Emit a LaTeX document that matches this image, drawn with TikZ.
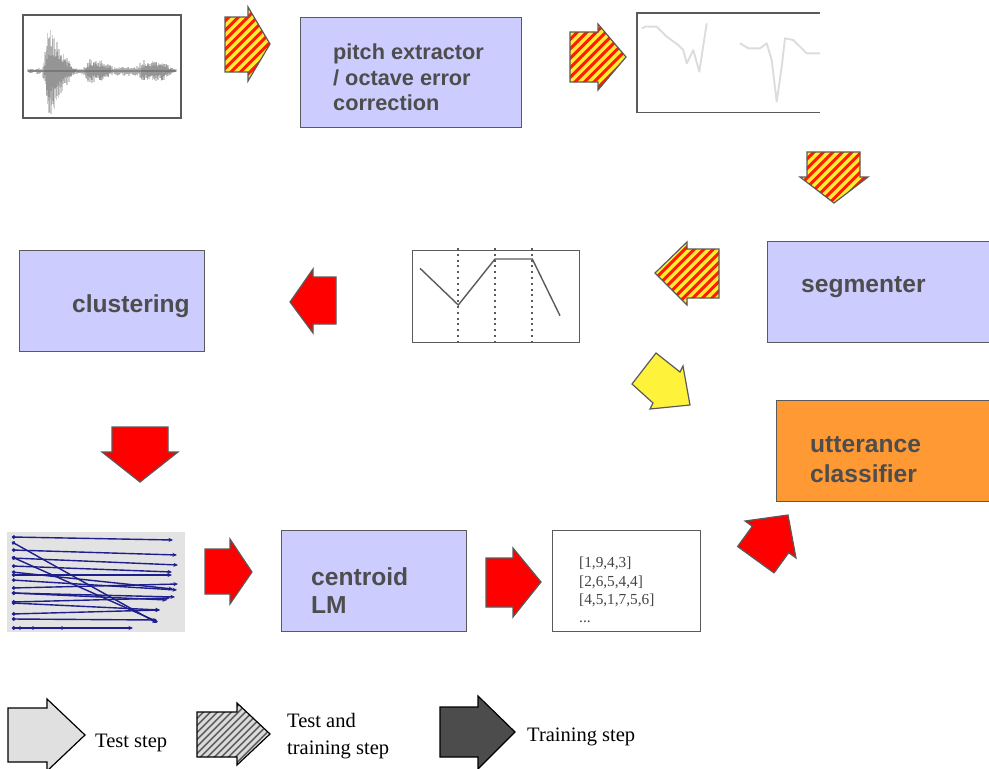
\documentclass[tikz,border=0pt]{standalone}
\usepackage{fontspec}
\setmainfont{Liberation Serif}
\setsansfont{Liberation Sans}
\usetikzlibrary{calc,arrows.meta}
\definecolor{lav}{HTML}{CCCCFF}
\definecolor{bord}{HTML}{5A5A5A}
\definecolor{txt}{HTML}{4D4D4D}
\definecolor{txtb}{HTML}{444444}
\definecolor{hy}{HTML}{FFEE33}
\definecolor{hr}{HTML}{FF1A00}
\definecolor{yel}{HTML}{FFF23A}
\definecolor{orng}{HTML}{FF9933}
\definecolor{navy}{HTML}{1E1E8C}
\definecolor{ltg}{HTML}{DCDCDC}
\definecolor{wavec}{HTML}{5E5E5E}
\definecolor{plotbg}{HTML}{E3E3E3}
\begin{document}
\begin{tikzpicture}[x=1pt,y=-1pt,
 box/.style={draw=bord, line width=1.3pt, fill=lav, anchor=north west, inner sep=0pt},
 obox/.style={draw=bord, line width=1.3pt, fill=orng, anchor=north west, inner sep=0pt},
 frame/.style={draw=bord, line width=1.3pt, anchor=north west, inner sep=0pt},
 lbl/.style={font=\sffamily\bfseries\fontsize{24.6}{29.5}\selectfont, text=txt, align=left, inner sep=0pt, anchor=west},
 legtext/.style={font=\fontsize{20.5}{27}\selectfont, text=black, align=left, inner sep=0pt, anchor=west},
 hatchy/.style={draw=bord, line width=1.2pt, fill=hy, line join=miter,
   path picture={\foreach \k in {-150,-140.5,...,150} \draw[hr, line width=3pt] ($(path picture bounding box.center)+(\k-90,90)$) -- ++(180,-180);}},
 hatchg/.style={draw=black, line width=1.2pt, fill=black!14,
   path picture={\foreach \k in {-150,-143,...,150} \draw[black!62, line width=1.7pt] ($(path picture bounding box.center)+(\k-90,90)$) -- ++(180,-180);}},
 redarr/.style={draw=bord, line width=1.2pt, fill=red},
 yelarr/.style={draw=bord, line width=1.2pt, fill=yel},
 wave/.style={draw=wavec, opacity=0.3, line width=1.4pt},
 pitchc/.style={draw=ltg, line width=1.9pt, line join=round},
 clu/.style={draw=navy, line width=1.4pt, {Circle[length=3.5pt]}-{Stealth[length=4.5pt,width=4pt]}},
]
\useasboundingbox (0,0) rectangle (989,769);

% ---- waveform picture
\node[frame, line width=1.8pt, minimum width=158pt, minimum height=103pt] (wavebox) at (22,14) {};
\draw[wavec, opacity=0.5, line width=1.6pt] (28,71) -- (176,71);
\pgfmathsetseed{7}
\foreach \x/\a in {28/2,31/3,34/2,37/3,40/2,43/8,45/25,47/40,49/44,51/42,53/38,55/35,57/30,59/28,61/22,63/18,65/15,67/12,69/9,71/6,73/4,75/3,78/3,81/3,84/5,86/9,88/11,90/12,92/10,94/11,96/9,98/10,100/11,102/9,104/8,106/7,108/6,110/5,113/4,116/5,119/4,122/5,125/4,128/5,131/4,134/5,137/6,140/8,142/10,144/11,146/12,148/11,150/10,152/12,154/11,156/10,158/9,160/11,162/10,164/8,166/7,168/5,170/4,172/3,174/2}{
  \foreach \j in {0,0.6,1.2,1.8}{
    \pgfmathsetmacro\u{\a*(0.35+0.65*rnd)}
    \pgfmathsetmacro\d{\a*(0.35+0.65*rnd)}
    \draw[wave] (\x+\j,71-\u) -- (\x+\j,71+\d);
  }
}

% ---- arrow 1 (hatched, right)
\draw[hatchy] (225,17) -- (248,17) -- (248,7) -- (270,44) -- (248,81) -- (248,72) -- (225,72) -- cycle;

% ---- pitch extractor box
\node[box, minimum width=221pt, minimum height=110pt] (pitch) at (300,17) {};
\node[lbl, font=\sffamily\bfseries\fontsize{21.7}{25.5}\selectfont] (pitchT) at (333,77.5) {pitch extractor\\/ octave error\\correction};

% ---- arrow 2 (hatched, right)
\draw[hatchy] (570,32) -- (598,32) -- (598,24) -- (626,57) -- (598,90) -- (598,82) -- (570,82) -- cycle;

% ---- pitch contour picture
\node[inner sep=0pt, anchor=north west, minimum width=183pt, minimum height=99pt] (pitchplot) at (637,13) {};
\draw[pitchc] (641.7,28.3) -- (646,26.5) -- (656.7,26.7) -- (666.7,36.7) -- (678.3,45) -- (683.3,50) -- (686.7,63.3) -- (693.3,50) -- (699.3,71.7) -- (706.7,23.3);
\draw[pitchc] (740,43.3) -- (748.3,48.3) -- (760,48.3) -- (766.7,43.3) -- (771.7,60) -- (776.7,101.7) -- (781.7,66.7) -- (785,38.3) -- (793.3,40) -- (806.7,53.3) -- (820,53.3);
\draw[bord, line width=1.3pt] (pitchplot.north east) -- (pitchplot.north west) -- (pitchplot.south west) -- (pitchplot.south east);

% ---- arrow 3 (hatched, down)
\draw[hatchy] (807,152) -- (860,152) -- (860,177) -- (868,177) -- (834,203) -- (800,177) -- (807,177) -- cycle;

% ---- segmenter
\node[box, minimum width=225pt, minimum height=101pt] (seg) at (767,241) {};
\node[lbl] (segT) at (801,287) {segmenter};

% ---- arrow 4 (hatched, left)
\draw[hatchy] (719,249) -- (687,249) -- (687,242) -- (655,273) -- (687,305) -- (687,298) -- (719,298) -- cycle;

% ---- segment plot
\node[frame, minimum width=167pt, minimum height=92pt] (segplot) at (411.7,250) {};
\foreach \xx in {458.3,495,532.3}
  \draw[bord, line width=2pt, dash pattern=on 2pt off 3.8pt] (\xx,248) -- (\xx,344);
\draw[bord, line width=1.4pt] (420,268.3) -- (458.3,305) -- (495,259) -- (532.3,259) -- (560,315.7);

% ---- red arrow left
\draw[redarr] (336,277) -- (313,277) -- (313,269) -- (290,302) -- (313,333) -- (313,324) -- (336,324) -- cycle;

% ---- clustering
\node[box, minimum width=185pt, minimum height=101pt] (clus) at (19,250) {};
\node[lbl] (clusT) at (72,306) {clustering};

% ---- yellow arrow
\draw[yelarr] (656,353) -- (680,372) -- (683,366) -- (690,405) -- (650,409) -- (653,403) -- (632,384) -- cycle;

% ---- utterance classifier
\node[obox, minimum width=216pt, minimum height=101pt] (utt) at (776,400) {};
\node[lbl, font=\sffamily\bfseries\fontsize{24.6}{30}\selectfont] (uttT) at (810,460) {utterance\\classifier};

% ---- red arrow down
\draw[redarr] (112,427) -- (168,427) -- (168,452) -- (178,452) -- (140,482) -- (102,452) -- (112,452) -- cycle;

% ---- cluster plot
\node[inner sep=0pt, anchor=north west, fill=plotbg, minimum width=178pt, minimum height=100pt] (cluplot) at (7,532) {};
\foreach \ya/\xb/\yb in {537/173/540, 542/157/623, 550/177/555, 557/158/622, 558/178/565, 566/172/572, 572/173/589, 575/172/575, 580/177/590, 588/178/584, 593/175/597, 593/167/600, 602/170/598, 603/160/610, 614/160/610, 619/157/620, 628/133/628}
  \draw[clu] (12,\ya) -- (\xb,\yb);
\foreach \xx in {20,33,62}
  \fill[navy] (\xx,628) circle (1.8pt);

% ---- red arrow right 1
\draw[redarr] (205,549) -- (230,549) -- (230,539) -- (252,572) -- (230,604) -- (230,594) -- (205,594) -- cycle;

% ---- centroid LM
\node[box, minimum width=185pt, minimum height=101pt] (cent) at (281,530) {};
\node[lbl, font=\sffamily\bfseries\fontsize{24.6}{28}\selectfont] (centT) at (311,591) {centroid\\LM};

% ---- red arrow right 2
\draw[redarr] (486,558) -- (513,558) -- (513,548) -- (541,582) -- (513,617) -- (513,607) -- (486,607) -- cycle;

% ---- sequence list
\node[frame, minimum width=148pt, minimum height=101pt] (seqs) at (552,530) {};
\node[inner sep=0pt, anchor=west, align=left, text=txtb, font=\fontsize{15.3}{18.3}\selectfont] (seqT) at (579,590) {[1,9,4,3]\\{}[2,6,5,4,4]\\{}[4,5,1,7,5,6]\\...};

% ---- red diagonal arrow
\draw[redarr] (737.6,546.5) -- (752.3,526.3) -- (745,521) -- (788,515) -- (796,558) -- (788.7,552.7) -- (774,572.9) -- cycle;

% ---- legend
\draw[draw=black, line width=1.2pt, fill=black!12] (8,708) -- (47,708) -- (47,699) -- (85,735) -- (47,771) -- (47,762) -- (8,762) -- cycle;
\node[legtext] (leg1) at (95,743) {Test step};
\draw[hatchg] (197,712) -- (237,712) -- (237,703) -- (270,734) -- (237,765) -- (237,757) -- (197,757) -- cycle;
\node[legtext] (leg2) at (287,736.5) {Test and\\training step};
\draw[draw=black, line width=1.2pt, fill=black!70] (440,707) -- (478,707) -- (478,696) -- (515,732) -- (478,769) -- (478,757) -- (440,757) -- cycle;
\node[legtext] (leg3) at (527,737) {Training step};
\end{tikzpicture}
\end{document}
